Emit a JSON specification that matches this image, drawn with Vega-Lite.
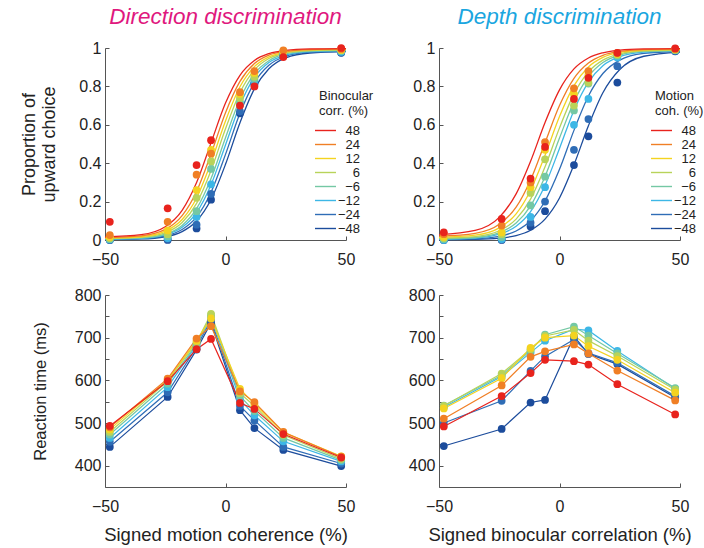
{
"$schema":"https://vega.github.io/schema/vega-lite/v6.json",
"autosize":{"type":"pad"},
"padding":{"left":20,"top":5,"right":5,"bottom":5},
"config":{
 "font":"Liberation Sans",
 "view":{"stroke":null},
 "scale":{"continuousPadding":0},
 "axis":{"domainColor":"#555","tickColor":"#555","labelColor":"#222","titleColor":"#222","labelFontSize":16,"titleFontSize":18.5,"titleFontWeight":"normal","grid":false,"tickSize":-4,"labelOverlap":false,"labelFlush":false},
 "axisX":{"titlePadding":11,"labelPadding":15},
 "axisY":{"titlePadding":20,"labelPadding":8},
 "title":{"fontSize":22.5,"fontStyle":"italic","fontWeight":"normal","offset":12,"anchor":"middle"},
 "legend":{"orient":"none","legendX":214,"legendY":42,"titleFontSize":13,"titleFontWeight":"normal","titleColor":"#222","labelFontSize":13,"labelColor":"#222","labelAlign":"right","labelOffset":28,"symbolType":"M-2,0H2","symbolSize":110,"symbolStrokeWidth":1.4,"titlePadding":6,"rowPadding":0}
},
"datasets":{
"cA":[
{"x":-50,"g":"−48","y":0.0024},{"x":-35,"g":"−48","y":0.0054},{"x":-25,"g":"−48","y":0.017},{"x":-18,"g":"−48","y":0.044},{"x":-12,"g":"−48","y":0.099},{"x":-6,"g":"−48","y":0.211},{"x":0,"g":"−48","y":0.394},{"x":6,"g":"−48","y":0.611},{"x":12,"g":"−48","y":0.787},{"x":18,"g":"−48","y":0.892},{"x":25,"g":"−48","y":0.949},{"x":35,"g":"−48","y":0.974},{"x":50,"g":"−48","y":0.981},
{"x":-50,"g":"−24","y":0.0034},{"x":-35,"g":"−24","y":0.0072},{"x":-25,"g":"−24","y":0.0216},{"x":-18,"g":"−24","y":0.0544},{"x":-12,"g":"−24","y":0.120},{"x":-6,"g":"−24","y":0.249},{"x":0,"g":"−24","y":0.446},{"x":6,"g":"−24","y":0.660},{"x":12,"g":"−24","y":0.820},{"x":18,"g":"−24","y":0.910},{"x":25,"g":"−24","y":0.957},{"x":35,"g":"−24","y":0.978},{"x":50,"g":"−24","y":0.983},
{"x":-50,"g":"−12","y":0.0045},{"x":-35,"g":"−12","y":0.009},{"x":-25,"g":"−12","y":0.0266},{"x":-18,"g":"−12","y":0.066},{"x":-12,"g":"−12","y":0.143},{"x":-6,"g":"−12","y":0.288},{"x":0,"g":"−12","y":0.495},{"x":6,"g":"−12","y":0.702},{"x":12,"g":"−12","y":0.847},{"x":18,"g":"−12","y":0.924},{"x":25,"g":"−12","y":0.963},{"x":35,"g":"−12","y":0.981},{"x":50,"g":"−12","y":0.986},
{"x":-50,"g":"−6","y":0.0056},{"x":-35,"g":"−6","y":0.011},{"x":-25,"g":"−6","y":0.031},{"x":-18,"g":"−6","y":0.076},{"x":-12,"g":"−6","y":0.163},{"x":-6,"g":"−6","y":0.320},{"x":0,"g":"−6","y":0.533},{"x":6,"g":"−6","y":0.733},{"x":12,"g":"−6","y":0.866},{"x":18,"g":"−6","y":0.934},{"x":25,"g":"−6","y":0.969},{"x":35,"g":"−6","y":0.984},{"x":50,"g":"−6","y":0.988},
{"x":-50,"g":"6","y":0.008},{"x":-35,"g":"6","y":0.014},{"x":-25,"g":"6","y":0.038},{"x":-18,"g":"6","y":0.091},{"x":-12,"g":"6","y":0.191},{"x":-6,"g":"6","y":0.362},{"x":0,"g":"6","y":0.579},{"x":6,"g":"6","y":0.768},{"x":12,"g":"6","y":0.886},{"x":18,"g":"6","y":0.945},{"x":25,"g":"6","y":0.974},{"x":35,"g":"6","y":0.986},{"x":50,"g":"6","y":0.990},
{"x":-50,"g":"12","y":0.010},{"x":-35,"g":"12","y":0.017},{"x":-25,"g":"12","y":0.046},{"x":-18,"g":"12","y":0.107},{"x":-12,"g":"12","y":0.219},{"x":-6,"g":"12","y":0.403},{"x":0,"g":"12","y":0.620},{"x":6,"g":"12","y":0.798},{"x":12,"g":"12","y":0.903},{"x":18,"g":"12","y":0.954},{"x":25,"g":"12","y":0.979},{"x":35,"g":"12","y":0.990},{"x":50,"g":"12","y":0.993},
{"x":-50,"g":"24","y":0.013},{"x":-35,"g":"24","y":0.022},{"x":-25,"g":"24","y":0.055},{"x":-18,"g":"24","y":0.127},{"x":-12,"g":"24","y":0.253},{"x":-6,"g":"24","y":0.448},{"x":0,"g":"24","y":0.663},{"x":6,"g":"24","y":0.826},{"x":12,"g":"24","y":0.919},{"x":18,"g":"24","y":0.963},{"x":25,"g":"24","y":0.983},{"x":35,"g":"24","y":0.992},{"x":50,"g":"24","y":0.995},
{"x":-50,"g":"48","y":0.0164},{"x":-35,"g":"48","y":0.0275},{"x":-25,"g":"48","y":0.0687},{"x":-18,"g":"48","y":0.154},{"x":-12,"g":"48","y":0.299},{"x":-6,"g":"48","y":0.506},{"x":0,"g":"48","y":0.713},{"x":6,"g":"48","y":0.858},{"x":12,"g":"48","y":0.935},{"x":18,"g":"48","y":0.971},{"x":25,"g":"48","y":0.988},{"x":35,"g":"48","y":0.995},{"x":50,"g":"48","y":0.997}
],
"cB":[
{"x":-50,"g":"−48","y":0.0013},{"x":-35,"g":"−48","y":0.003},{"x":-25,"g":"−48","y":0.0094},{"x":-18,"g":"−48","y":0.023},{"x":-12,"g":"−48","y":0.051},{"x":-6,"g":"−48","y":0.109},{"x":0,"g":"−48","y":0.219},{"x":6,"g":"−48","y":0.392},{"x":12,"g":"−48","y":0.595},{"x":18,"g":"−48","y":0.767},{"x":25,"g":"−48","y":0.888},{"x":35,"g":"−48","y":0.957},{"x":50,"g":"−48","y":0.979},
{"x":-50,"g":"−24","y":0.0025},{"x":-35,"g":"−24","y":0.0063},{"x":-25,"g":"−24","y":0.019},{"x":-18,"g":"−24","y":0.047},{"x":-12,"g":"−24","y":0.100},{"x":-6,"g":"−24","y":0.203},{"x":0,"g":"−24","y":0.368},{"x":6,"g":"−24","y":0.571},{"x":12,"g":"−24","y":0.750},{"x":18,"g":"−24","y":0.867},{"x":25,"g":"−24","y":0.937},{"x":35,"g":"−24","y":0.972},{"x":50,"g":"−24","y":0.983},
{"x":-50,"g":"−12","y":0.004},{"x":-35,"g":"−12","y":0.010},{"x":-25,"g":"−12","y":0.030},{"x":-18,"g":"−12","y":0.072},{"x":-12,"g":"−12","y":0.148},{"x":-6,"g":"−12","y":0.285},{"x":0,"g":"−12","y":0.477},{"x":6,"g":"−12","y":0.675},{"x":12,"g":"−12","y":0.822},{"x":18,"g":"−12","y":0.908},{"x":25,"g":"−12","y":0.955},{"x":35,"g":"−12","y":0.978},{"x":50,"g":"−12","y":0.985},
{"x":-50,"g":"−6","y":0.006},{"x":-35,"g":"−6","y":0.013},{"x":-25,"g":"−6","y":0.038},{"x":-18,"g":"−6","y":0.088},{"x":-12,"g":"−6","y":0.178},{"x":-6,"g":"−6","y":0.331},{"x":0,"g":"−6","y":0.531},{"x":6,"g":"−6","y":0.720},{"x":12,"g":"−6","y":0.851},{"x":18,"g":"−6","y":0.924},{"x":25,"g":"−6","y":0.963},{"x":35,"g":"−6","y":0.982},{"x":50,"g":"−6","y":0.987},
{"x":-50,"g":"6","y":0.0093},{"x":-35,"g":"6","y":0.018},{"x":-25,"g":"6","y":0.048},{"x":-18,"g":"6","y":0.109},{"x":-12,"g":"6","y":0.213},{"x":-6,"g":"6","y":0.381},{"x":0,"g":"6","y":0.584},{"x":6,"g":"6","y":0.761},{"x":12,"g":"6","y":0.876},{"x":18,"g":"6","y":0.937},{"x":25,"g":"6","y":0.970},{"x":35,"g":"6","y":0.985},{"x":50,"g":"6","y":0.989},
{"x":-50,"g":"12","y":0.0136},{"x":-35,"g":"12","y":0.025},{"x":-25,"g":"12","y":0.063},{"x":-18,"g":"12","y":0.136},{"x":-12,"g":"12","y":0.259},{"x":-6,"g":"12","y":0.441},{"x":0,"g":"12","y":0.643},{"x":6,"g":"12","y":0.804},{"x":12,"g":"12","y":0.901},{"x":18,"g":"12","y":0.951},{"x":25,"g":"12","y":0.977},{"x":35,"g":"12","y":0.989},{"x":50,"g":"12","y":0.993},
{"x":-50,"g":"24","y":0.020},{"x":-35,"g":"24","y":0.035},{"x":-25,"g":"24","y":0.082},{"x":-18,"g":"24","y":0.171},{"x":-12,"g":"24","y":0.313},{"x":-6,"g":"24","y":0.507},{"x":0,"g":"24","y":0.700},{"x":6,"g":"24","y":0.842},{"x":12,"g":"24","y":0.922},{"x":18,"g":"24","y":0.962},{"x":25,"g":"24","y":0.982},{"x":35,"g":"24","y":0.992},{"x":50,"g":"24","y":0.995},
{"x":-50,"g":"48","y":0.028},{"x":-35,"g":"48","y":0.050},{"x":-25,"g":"48","y":0.118},{"x":-18,"g":"48","y":0.240},{"x":-12,"g":"48","y":0.410},{"x":-6,"g":"48","y":0.612},{"x":0,"g":"48","y":0.782},{"x":6,"g":"48","y":0.891},{"x":12,"g":"48","y":0.948},{"x":18,"g":"48","y":0.975},{"x":25,"g":"48","y":0.989},{"x":35,"g":"48","y":0.995},{"x":50,"g":"48","y":0.997}
],
"dA":[
{"x":-48,"g":"−48","y":0.0},{"x":-24,"g":"−48","y":0.0},{"x":-12,"g":"−48","y":0.06},{"x":-6,"g":"−48","y":0.21},{"x":6,"g":"−48","y":0.66},{"x":12,"g":"−48","y":0.81},{"x":24,"g":"−48","y":0.96},{"x":48,"g":"−48","y":0.975},
{"x":-48,"g":"−24","y":0.0},{"x":-24,"g":"−24","y":0.005},{"x":-12,"g":"−24","y":0.08},{"x":-6,"g":"−24","y":0.24},{"x":6,"g":"−24","y":0.67},{"x":12,"g":"−24","y":0.82},{"x":24,"g":"−24","y":0.965},{"x":48,"g":"−24","y":0.977},
{"x":-48,"g":"−12","y":0.003},{"x":-24,"g":"−12","y":0.01},{"x":-12,"g":"−12","y":0.12},{"x":-6,"g":"−12","y":0.29},{"x":6,"g":"−12","y":0.71},{"x":12,"g":"−12","y":0.83},{"x":24,"g":"−12","y":0.97},{"x":48,"g":"−12","y":0.98},
{"x":-48,"g":"−6","y":0.005},{"x":-24,"g":"−6","y":0.02},{"x":-12,"g":"−6","y":0.15},{"x":-6,"g":"−6","y":0.37},{"x":6,"g":"−6","y":0.72},{"x":12,"g":"−6","y":0.84},{"x":24,"g":"−6","y":0.975},{"x":48,"g":"−6","y":0.985},
{"x":-48,"g":"6","y":0.01},{"x":-24,"g":"6","y":0.03},{"x":-12,"g":"6","y":0.22},{"x":-6,"g":"6","y":0.41},{"x":6,"g":"6","y":0.74},{"x":12,"g":"6","y":0.85},{"x":24,"g":"6","y":0.98},{"x":48,"g":"6","y":0.99},
{"x":-48,"g":"12","y":0.015},{"x":-24,"g":"12","y":0.05},{"x":-12,"g":"12","y":0.26},{"x":-6,"g":"12","y":0.47},{"x":6,"g":"12","y":0.76},{"x":12,"g":"12","y":0.87},{"x":24,"g":"12","y":0.985},{"x":48,"g":"12","y":0.99},
{"x":-48,"g":"24","y":0.026},{"x":-24,"g":"24","y":0.095},{"x":-12,"g":"24","y":0.34},{"x":-6,"g":"24","y":0.45},{"x":6,"g":"24","y":0.77},{"x":12,"g":"24","y":0.88},{"x":24,"g":"24","y":0.988},{"x":48,"g":"24","y":0.995},
{"x":-48,"g":"48","y":0.095},{"x":-24,"g":"48","y":0.165},{"x":-12,"g":"48","y":0.39},{"x":-6,"g":"48","y":0.52},{"x":6,"g":"48","y":0.70},{"x":12,"g":"48","y":0.80},{"x":24,"g":"48","y":0.953},{"x":48,"g":"48","y":1.0}
],
"dB":[
{"x":-48,"g":"−48","y":0.0},{"x":-24,"g":"−48","y":0.0},{"x":-12,"g":"−48","y":0.07},{"x":-6,"g":"−48","y":0.15},{"x":6,"g":"−48","y":0.39},{"x":12,"g":"−48","y":0.54},{"x":24,"g":"−48","y":0.82},{"x":48,"g":"−48","y":0.983},
{"x":-48,"g":"−24","y":0.0},{"x":-24,"g":"−24","y":0.003},{"x":-12,"g":"−24","y":0.09},{"x":-6,"g":"−24","y":0.20},{"x":6,"g":"−24","y":0.47},{"x":12,"g":"−24","y":0.63},{"x":24,"g":"−24","y":0.905},{"x":48,"g":"−24","y":0.985},
{"x":-48,"g":"−12","y":0.0},{"x":-24,"g":"−12","y":0.005},{"x":-12,"g":"−12","y":0.12},{"x":-6,"g":"−12","y":0.275},{"x":6,"g":"−12","y":0.60},{"x":12,"g":"−12","y":0.735},{"x":24,"g":"−12","y":0.95},{"x":48,"g":"−12","y":0.988},
{"x":-48,"g":"−6","y":0.005},{"x":-24,"g":"−6","y":0.015},{"x":-12,"g":"−6","y":0.18},{"x":-6,"g":"−6","y":0.33},{"x":6,"g":"−6","y":0.675},{"x":12,"g":"−6","y":0.815},{"x":24,"g":"−6","y":0.96},{"x":48,"g":"−6","y":0.99},
{"x":-48,"g":"6","y":0.01},{"x":-24,"g":"6","y":0.03},{"x":-12,"g":"6","y":0.245},{"x":-6,"g":"6","y":0.42},{"x":6,"g":"6","y":0.70},{"x":12,"g":"6","y":0.82},{"x":24,"g":"6","y":0.965},{"x":48,"g":"6","y":0.99},
{"x":-48,"g":"12","y":0.015},{"x":-24,"g":"12","y":0.04},{"x":-12,"g":"12","y":0.275},{"x":-6,"g":"12","y":0.47},{"x":6,"g":"12","y":0.76},{"x":12,"g":"12","y":0.86},{"x":24,"g":"12","y":0.97},{"x":48,"g":"12","y":0.993},
{"x":-48,"g":"24","y":0.03},{"x":-24,"g":"24","y":0.075},{"x":-12,"g":"24","y":0.30},{"x":-6,"g":"24","y":0.51},{"x":6,"g":"24","y":0.79},{"x":12,"g":"24","y":0.88},{"x":24,"g":"24","y":0.975},{"x":48,"g":"24","y":0.995},
{"x":-48,"g":"48","y":0.04},{"x":-24,"g":"48","y":0.11},{"x":-12,"g":"48","y":0.32},{"x":-6,"g":"48","y":0.485},{"x":6,"g":"48","y":0.735},{"x":12,"g":"48","y":0.845},{"x":24,"g":"48","y":0.975},{"x":48,"g":"48","y":0.998}
],
"rA":[
{"x":-48,"g":"−48","y":444},{"x":-24,"g":"−48","y":561},{"x":-12,"g":"−48","y":672},{"x":-6,"g":"−48","y":735},{"x":6,"g":"−48","y":530},{"x":12,"g":"−48","y":488},{"x":24,"g":"−48","y":437},{"x":48,"g":"−48","y":399},
{"x":-48,"g":"−24","y":456},{"x":-24,"g":"−24","y":572},{"x":-12,"g":"−24","y":678},{"x":-6,"g":"−24","y":742},{"x":6,"g":"−24","y":540},{"x":12,"g":"−24","y":506},{"x":24,"g":"−24","y":444},{"x":48,"g":"−24","y":405},
{"x":-48,"g":"−12","y":465},{"x":-24,"g":"−12","y":584},{"x":-12,"g":"−12","y":683},{"x":-6,"g":"−12","y":748},{"x":6,"g":"−12","y":555},{"x":12,"g":"−12","y":518},{"x":24,"g":"−12","y":457},{"x":48,"g":"−12","y":410},
{"x":-48,"g":"−6","y":473},{"x":-24,"g":"−6","y":592},{"x":-12,"g":"−6","y":686},{"x":-6,"g":"−6","y":752},{"x":6,"g":"−6","y":563},{"x":12,"g":"−6","y":528},{"x":24,"g":"−6","y":465},{"x":48,"g":"−6","y":413},
{"x":-48,"g":"6","y":479},{"x":-24,"g":"6","y":598},{"x":-12,"g":"6","y":690},{"x":-6,"g":"6","y":756},{"x":6,"g":"6","y":570},{"x":12,"g":"6","y":540},{"x":24,"g":"6","y":472},{"x":48,"g":"6","y":416},
{"x":-48,"g":"12","y":485},{"x":-24,"g":"12","y":601},{"x":-12,"g":"12","y":693},{"x":-6,"g":"12","y":745},{"x":6,"g":"12","y":580},{"x":12,"g":"12","y":545},{"x":24,"g":"12","y":478},{"x":48,"g":"12","y":422},
{"x":-48,"g":"24","y":490},{"x":-24,"g":"24","y":604},{"x":-12,"g":"24","y":698},{"x":-6,"g":"24","y":727},{"x":6,"g":"24","y":574},{"x":12,"g":"24","y":549},{"x":24,"g":"24","y":479},{"x":48,"g":"24","y":421},
{"x":-48,"g":"48","y":493},{"x":-24,"g":"48","y":598},{"x":-12,"g":"48","y":673},{"x":-6,"g":"48","y":697},{"x":6,"g":"48","y":547},{"x":12,"g":"48","y":533},{"x":24,"g":"48","y":474},{"x":48,"g":"48","y":419}
],
"rB":[
{"x":-48,"g":"−48","y":446},{"x":-24,"g":"−48","y":486},{"x":-12,"g":"−48","y":548},{"x":-6,"g":"−48","y":554},{"x":6,"g":"−48","y":703},{"x":12,"g":"−48","y":662},{"x":24,"g":"−48","y":638},{"x":48,"g":"−48","y":560},
{"x":-48,"g":"−24","y":500},{"x":-24,"g":"−24","y":552},{"x":-12,"g":"−24","y":622},{"x":-6,"g":"−24","y":656},{"x":6,"g":"−24","y":696},{"x":12,"g":"−24","y":664},{"x":24,"g":"−24","y":641},{"x":48,"g":"−24","y":563},
{"x":-48,"g":"−12","y":537},{"x":-24,"g":"−12","y":609},{"x":-12,"g":"−12","y":665},{"x":-6,"g":"−12","y":693},{"x":6,"g":"−12","y":720},{"x":12,"g":"−12","y":717},{"x":24,"g":"−12","y":669},{"x":48,"g":"−12","y":580},
{"x":-48,"g":"−6","y":541},{"x":-24,"g":"−6","y":612},{"x":-12,"g":"−6","y":670},{"x":-6,"g":"−6","y":707},{"x":6,"g":"−6","y":726},{"x":12,"g":"−6","y":705},{"x":24,"g":"−6","y":663},{"x":48,"g":"−6","y":582},
{"x":-48,"g":"6","y":540},{"x":-24,"g":"6","y":616},{"x":-12,"g":"6","y":673},{"x":-6,"g":"6","y":704},{"x":6,"g":"6","y":718},{"x":12,"g":"6","y":693},{"x":24,"g":"6","y":657},{"x":48,"g":"6","y":578},
{"x":-48,"g":"12","y":534},{"x":-24,"g":"12","y":605},{"x":-12,"g":"12","y":676},{"x":-6,"g":"12","y":700},{"x":6,"g":"12","y":705},{"x":12,"g":"12","y":680},{"x":24,"g":"12","y":648},{"x":48,"g":"12","y":571},
{"x":-48,"g":"24","y":510},{"x":-24,"g":"24","y":588},{"x":-12,"g":"24","y":655},{"x":-6,"g":"24","y":668},{"x":6,"g":"24","y":684},{"x":12,"g":"24","y":663},{"x":24,"g":"24","y":623},{"x":48,"g":"24","y":553},
{"x":-48,"g":"48","y":492},{"x":-24,"g":"48","y":563},{"x":-12,"g":"48","y":617},{"x":-6,"g":"48","y":648},{"x":6,"g":"48","y":645},{"x":12,"g":"48","y":637},{"x":24,"g":"48","y":591},{"x":48,"g":"48","y":520}
]
},
"concat":[
{"width":241,"height":192,
 "title":{"text":"Direction discrimination","color":"#e0187e"},
 "encoding":{
  "x":{"field":"x","type":"quantitative","scale":{"domain":[-50,50],"padding":0,"nice":false},"axis":{"values":[-50,0,50],"format":"d","title":null,"labelFlush":false,"labelOverlap":false}},
  "y":{"field":"y","type":"quantitative","scale":{"domain":[0,1],"padding":0,"nice":false},"axis":{"values":[0,0.2,0.4,0.6,0.8,1],"labelExpr":"datum.value === 0 ? '0' : datum.value === 1 ? '1' : format(datum.value, '.1f')","title":["Proportion of","upward choice"],"titleFontSize":18,"titleLineHeight":20,"labelFlush":false,"labelOverlap":false}},
  "color":{"field":"g","type":"nominal","scale":{"domain":["48","24","12","6","−6","−12","−24","−48"],"range":["#e8231d","#f07f25","#f4d320","#b8d35a","#74c8a4","#3db7e6","#2f6db6","#1c4c9c"]},"legend":{"title":["Binocular","corr. (%)"]}}},
 "layer":[
  {"data":{"name":"cA"},"mark":{"type":"line","strokeWidth":1.3,"interpolate":"monotone"}},
  {"data":{"name":"dA"},"mark":{"type":"circle","size":60,"opacity":1}}
 ]},
{"width":241,"height":192,
 "title":{"text":"Depth discrimination","color":"#1aa6e0"},
 "encoding":{
  "x":{"field":"x","type":"quantitative","scale":{"domain":[-50,50],"padding":0,"nice":false},"axis":{"values":[-50,0,50],"format":"d","title":null,"labelFlush":false,"labelOverlap":false}},
  "y":{"field":"y","type":"quantitative","scale":{"domain":[0,1],"padding":0,"nice":false},"axis":{"values":[0,0.2,0.4,0.6,0.8,1],"labelExpr":"datum.value === 0 ? '0' : datum.value === 1 ? '1' : format(datum.value, '.1f')","title":null,"labelFlush":false,"labelOverlap":false}},
  "color":{"field":"g","type":"nominal","scale":{"domain":["48","24","12","6","−6","−12","−24","−48"],"range":["#e8231d","#f07f25","#f4d320","#b8d35a","#74c8a4","#3db7e6","#2f6db6","#1c4c9c"]},"legend":{"title":["Motion","coh. (%)"],"legendX":216}}},
 "layer":[
  {"data":{"name":"cB"},"mark":{"type":"line","strokeWidth":1.3,"interpolate":"monotone"}},
  {"data":{"name":"dB"},"mark":{"type":"circle","size":60,"opacity":1}}
 ]},
{"width":241,"height":192,"data":{"name":"rA"},
 "encoding":{
  "x":{"field":"x","type":"quantitative","scale":{"domain":[-50,50],"padding":0,"nice":false},"axis":{"values":[-50,0,50],"format":"d","title":"Signed motion coherence (%)","labelFlush":false,"labelOverlap":false}},
  "y":{"field":"y","type":"quantitative","scale":{"domain":[350,800],"padding":0,"nice":false},"axis":{"values":[400,450,500,550,600,650,700,750,800],"labelExpr":"datum.value % 100 === 0 ? datum.label : ''","title":"Reaction time (ms)","titleFontSize":16.5,"titlePadding":26,"labelFlush":false,"labelOverlap":false}},
  "color":{"field":"g","type":"nominal","scale":{"domain":["48","24","12","6","−6","−12","−24","−48"],"range":["#e8231d","#f07f25","#f4d320","#b8d35a","#74c8a4","#3db7e6","#2f6db6","#1c4c9c"]},"legend":null}},
 "layer":[
  {"mark":{"type":"line","strokeWidth":1.2}},
  {"mark":{"type":"circle","size":60,"opacity":1}}
 ]},
{"width":241,"height":192,"data":{"name":"rB"},
 "encoding":{
  "x":{"field":"x","type":"quantitative","scale":{"domain":[-50,50],"padding":0,"nice":false},"axis":{"values":[-50,0,50],"format":"d","title":"Signed binocular correlation (%)","labelFlush":false,"labelOverlap":false}},
  "y":{"field":"y","type":"quantitative","scale":{"domain":[350,800],"padding":0,"nice":false},"axis":{"values":[400,450,500,550,600,650,700,750,800],"labelExpr":"datum.value % 100 === 0 ? datum.label : ''","title":null,"labelFlush":false,"labelOverlap":false}},
  "color":{"field":"g","type":"nominal","scale":{"domain":["48","24","12","6","−6","−12","−24","−48"],"range":["#e8231d","#f07f25","#f4d320","#b8d35a","#74c8a4","#3db7e6","#2f6db6","#1c4c9c"]},"legend":null}},
 "layer":[
  {"mark":{"type":"line","strokeWidth":1.2}},
  {"mark":{"type":"circle","size":60,"opacity":1}}
 ]}
],
"columns":2,
"spacing":{"row":55,"column":93},
"bounds":"flush",
"resolve":{"scale":{"color":"independent"},"legend":{"color":"independent"}}
}
